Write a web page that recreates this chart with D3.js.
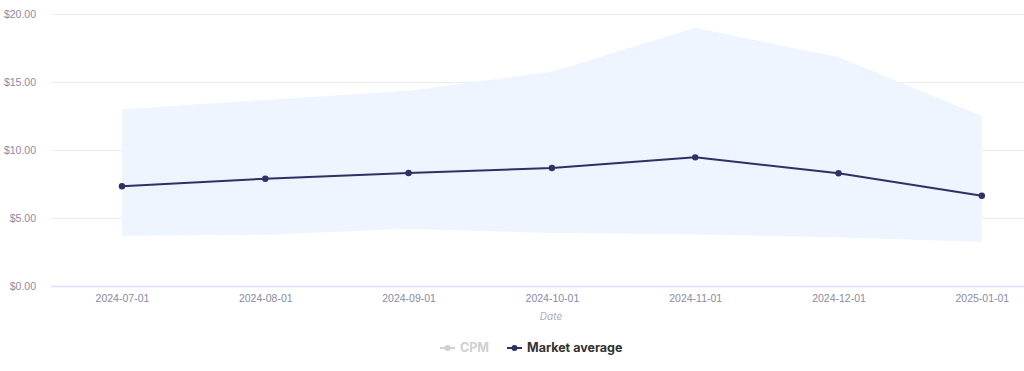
<!DOCTYPE html>
<html><head><meta charset="utf-8">
<script src="https://cdn.jsdelivr.net/npm/d3@7/dist/d3.min.js"></script>
<style>
html,body{margin:0;padding:0;background:#fff;overflow:hidden}
svg{display:block;font-family:Inter,"Open Sans",sans-serif}
</style></head><body>
<svg id="c" width="1024" height="371"></svg>
<script>
const dates = ["2024-07-01","2024-08-01","2024-09-01","2024-10-01","2024-11-01","2024-12-01","2025-01-01"];
const marketAvg = [7.33, 7.89, 8.31, 8.68, 9.46, 8.29, 6.64];
const cpmLow = [3.70, 3.77, 4.21, 3.90, 3.80, 3.58, 3.24];
const cpmHigh = [12.99, 13.68, 14.36, 15.76, 18.99, 16.82, 12.50];
const yTicks = [0, 5, 10, 15, 20];
const legendItems = ["CPM", "Market average"];

const svg = d3.select("#c");
const x = d3.scalePoint().domain(dates).range([50.3, 1053.5]).padding(0.5);
const y = d3.scaleLinear().domain([0, 20]).range([286, 14]);

// grid
svg.append("g").selectAll("line").data(yTicks.filter(d=>d>0)).join("line")
  .attr("x1", 51).attr("x2", 1052).attr("y1", d=>y(d)+0.5).attr("y2", d=>y(d)+0.5)
  .attr("stroke", "#ececef").attr("stroke-width", 1);

// band
const rows = dates.map((d,i)=>({d, lo: cpmLow[i], hi: cpmHigh[i], m: marketAvg[i]}));
svg.append("path").datum(rows)
  .attr("d", d3.area().x(r=>x(r.d)).y0(r=>y(r.lo)).y1(r=>y(r.hi)))
  .attr("fill", "#eef5fe");

// axis line
svg.append("line").attr("x1", 51).attr("x2", 1052).attr("y1", y(0)+0.5).attr("y2", y(0)+0.5)
  .attr("stroke", "#dcdff5").attr("stroke-width", 1.5);

// y labels
const yAxis = d3.axisLeft(y).tickValues(yTicks).tickFormat(d=>"$"+d3.format(".2f")(d)).tickSize(0).tickPadding(0);
const ga = svg.append("g").attr("transform", "translate(36,0)").call(yAxis);
ga.select(".domain").remove();
ga.selectAll("text").attr("fill", "#8a8aa5").attr("font-size", 10.5).attr("dy", "0.35em");

// x labels
const xAxis = d3.axisBottom(x).tickSize(0).tickPadding(0);
const gx = svg.append("g").attr("transform", "translate(0,295)").call(xAxis);
gx.select(".domain").remove();
gx.selectAll("text").attr("fill", "#8a8aa5").attr("font-size", 10.5).attr("dy", "0.71em");

svg.append("text").attr("x", 551).attr("y", 320).attr("text-anchor", "middle")
  .attr("font-size", 10).attr("font-style", "italic").attr("fill", "#adadc4").text("Date");

// line
svg.append("path").datum(rows)
  .attr("d", d3.line().x(r=>x(r.d)).y(r=>y(r.m)))
  .attr("fill", "none").attr("stroke", "#2e3263").attr("stroke-width", 2);
svg.append("g").selectAll("circle").data(rows).join("circle")
  .attr("cx", r=>x(r.d)).attr("cy", r=>y(r.m)).attr("r", 3.2).attr("fill", "#2e3263");

// legend
const lg = svg.append("g").attr("transform", "translate(0,348)");
const items = [
  {name: legendItems[0], x: 440, color: "#cfcfd4", text: "#cfcfd4"},
  {name: legendItems[1], x: 507, color: "#2e3263", text: "#333"}
];
items.forEach(it=>{
  lg.append("line").attr("x1", it.x).attr("x2", it.x+15).attr("y1", 0).attr("y2", 0)
    .attr("stroke", it.color).attr("stroke-width", 2);
  lg.append("circle").attr("cx", it.x+7.5).attr("cy", 0).attr("r", 3).attr("fill", it.color);
  lg.append("text").attr("x", it.x+20).attr("y", 0).attr("dy", "0.35em")
    .attr("font-size", 12.5).attr("font-weight", 700).attr("fill", it.text).text(it.name);
});
</script></body></html>
